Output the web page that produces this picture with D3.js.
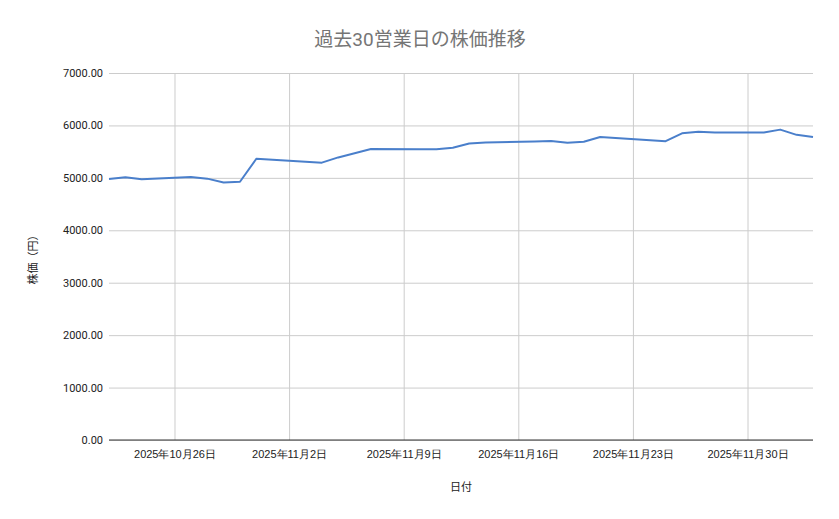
<!DOCTYPE html><html><head><meta charset="utf-8"><script src="https://cdn.jsdelivr.net/npm/d3@7"></script>
<style>body{margin:0;background:#fff;font-family:Roboto,"Noto Sans CJK JP",sans-serif}</style></head><body><svg id="c" width="839" height="519"></svg><script>
const dates=["2025-10-22","2025-10-23","2025-10-24","2025-10-27","2025-10-28","2025-10-29","2025-10-30","2025-10-31","2025-11-04","2025-11-05","2025-11-06","2025-11-07","2025-11-10","2025-11-11","2025-11-12","2025-11-13","2025-11-14","2025-11-17","2025-11-18","2025-11-19","2025-11-20","2025-11-21","2025-11-25","2025-11-26","2025-11-27","2025-11-28","2025-12-01","2025-12-02","2025-12-03","2025-12-04"];
const prices=[4980,5010,4975,5015,4985,4910,4925,5365,5290,5390,5470,5550,5545,5545,5575,5655,5675,5695,5705,5670,5690,5780,5700,5850,5880,5865,5865,5920,5820,5780];
const xTicks=["2025-10-26","2025-11-02","2025-11-09","2025-11-16","2025-11-23","2025-11-30"];
const yTicks=[0,1000,2000,3000,4000,5000,6000,7000];
const svg=d3.select("#c"),L=109,R=813,T=73,B=440;
const p=d3.utcParse("%Y-%m-%d");
const x=d3.scaleUtc().domain([p(dates[0]),p(dates[dates.length-1])]).range([L,R]);
const y=d3.scaleLinear().domain([0,7000]).range([B,T]);
const fmt=d=>`${d.getUTCFullYear()}年${d.getUTCMonth()+1}月${d.getUTCDate()}日`;
const gy=svg.append("g").attr("transform",`translate(${L},0)`).call(d3.axisLeft(y).tickValues(yTicks).tickSize(-(R-L)).tickFormat(d=>d.toFixed(2)));
gy.select(".domain").remove();
gy.selectAll("line").attr("stroke","#cccccc");
gy.selectAll("text").attr("x",-6).attr("font-size",11).attr("fill","#222").attr("font-family","Roboto,sans-serif");
const gx=svg.append("g").attr("transform",`translate(0,${B})`).call(d3.axisBottom(x).tickValues(xTicks.map(p)).tickSize(-(B-T)).tickFormat(fmt));
gx.select(".domain").remove();
gx.selectAll("line").attr("stroke","#cccccc");
gx.selectAll("text").attr("y",10).attr("font-size",11).attr("fill","#222");
svg.append("line").attr("x1",L).attr("x2",R).attr("y1",B).attr("y2",B).attr("stroke","#333");
svg.append("path").datum(dates.map((d,i)=>[p(d),prices[i]])).attr("fill","none").attr("stroke","#4a7fcb").attr("stroke-width",2).attr("stroke-linejoin","round")
 .attr("d",d3.line().x(d=>x(d[0])).y(d=>y(d[1])));
svg.append("text").attr("x",420).attr("y",46).attr("text-anchor","middle").attr("font-size",19).attr("fill","#757575").text("過去30営業日の株価推移");
svg.append("text").attr("x",461).attr("y",491).attr("text-anchor","middle").attr("font-size",11).attr("fill","#222").text("日付");
svg.append("text").attr("transform","translate(37,257) rotate(-90)").attr("text-anchor","middle").attr("font-size",11).attr("fill","#222").text("株価（円）");
</script></body></html>
